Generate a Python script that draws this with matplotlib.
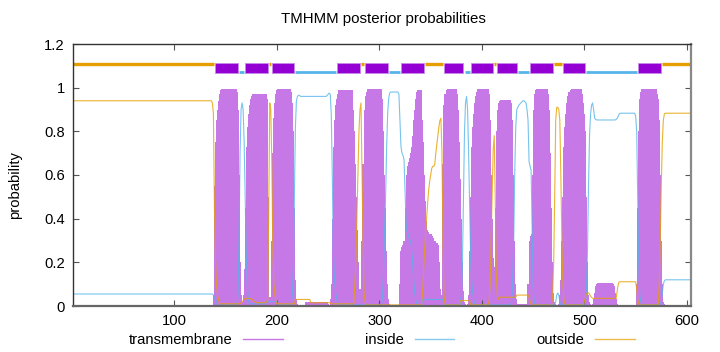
import matplotlib
matplotlib.use("Agg")
import matplotlib.pyplot as plt
from matplotlib.lines import Line2D
from matplotlib.patches import Rectangle
import numpy as np

plt.rcParams["font.family"] = ["Liberation Sans", "DejaVu Sans"]
plt.rcParams["font.size"] = 10.6

SEQ_LEN = 604

# posterior probabilities: (first residue, values)
TM_PIECES = [
    (138, [0.05, 0.55, 0.75, 0.85, 0.9, 0.94, 0.97, 0.99]),
    (146, [0.995] * 15),
    (161, [0.98, 0.9, 0.6, 0.2, 0.05, 0.02, 0.05, 0.17, 0.45, 0.73, 0.82, 0.88, 0.92, 0.95, 0.96]),
    (176, [0.97] * 15),
    (191, [0.95, 0.5, 0.04, 0.04, 0.3, 0.7, 0.86, 0.93, 0.97, 0.99]),
    (201, [0.995] * 13),
    (214, [0.98, 0.93, 0.8, 0.45, 0.12, 0.03, 0.01]),
    (221, [0.005] * 7),
    (228, [0.02] * 22),
    (250, [0.01, 0.005, 0.03]),
    (253, [0.1, 0.4, 0.73, 0.85, 0.92, 0.95, 0.97]),
    (260, [0.99] * 15),
    (275, [0.9, 0.8, 0.65, 0.5, 0.35, 0.2, 0.08, 0.03]),
    (283, [0.3, 0.65, 0.9, 0.96, 0.98]),
    (288, [0.995] * 15),
    (303, [0.95, 0.8, 0.6, 0.45, 0.25, 0.1, 0.03, 0.01]),
    (320, [0.1, 0.25, 0.27, 0.28, 0.3, 0.45, 0.6, 0.64, 0.66, 0.68, 0.7, 0.73, 0.78, 0.85, 0.9, 0.95, 0.98]),
    (337, [0.99] * 5),
    (342, [0.85, 0.75, 0.6, 0.48, 0.39, 0.35, 0.34, 0.33, 0.33, 0.33, 0.32, 0.31, 0.3, 0.3, 0.29, 0.29,
           0.28, 0.2, 0.08, 0.05]),
    (362, [0.65, 0.92, 0.97, 0.99]),
    (366, [0.995] * 10),
    (376, [0.97, 0.9, 0.75, 0.58, 0.4, 0.2, 0.07, 0.02, 0.01]),
    (386, [0.01, 0.05, 0.25, 0.5, 0.73, 0.82, 0.88, 0.93, 0.96, 0.98]),
    (396, [0.995] * 11),
    (407, [0.97, 0.85, 0.6, 0.4, 0.22, 0.18, 0.45, 0.8, 0.9, 0.93, 0.94, 0.945]),
    (419, [0.945] * 10),
    (429, [0.93, 0.85, 0.6, 0.3, 0.1, 0.03, 0.01]),
    (436, [0.01] * 9),
    (445, [0.1, 0.3, 0.32, 0.33, 0.6, 0.9, 0.97, 0.99]),
    (453, [0.995] * 12),
    (465, [0.97, 0.9, 0.7, 0.45, 0.2, 0.06, 0.02]),
    (472, [0.01, 0.005, 0.005, 0.01, 0.05, 0.12, 0.3, 0.5, 0.73, 0.82, 0.88, 0.93, 0.96, 0.98, 0.99]),
    (487, [0.995] * 11),
    (498, [0.97, 0.93, 0.88, 0.8, 0.5, 0.2, 0.05, 0.02, 0.01]),
    (507, [0.005, 0.01, 0.03, 0.06, 0.09, 0.1]),
    (513, [0.105] * 15),
    (528, [0.1, 0.09, 0.06, 0.03, 0.01, 0.005]),
    (551, [0.1, 0.45, 0.8, 0.95, 0.98, 0.995, 0.995]),
    (558, [0.995] * 13),
    (571, [0.97, 0.95, 0.85, 0.6, 0.3, 0.1, 0.02, 0.01]),
]

INSIDE_PIECES = [
    (1, [0.055] * 136),
    (137, [0.055, 0.05, 0.04, 0.03, 0.02, 0.01]),
    (161, [0.01, 0.05, 0.3, 0.7, 0.9, 0.93, 0.9, 0.75, 0.5, 0.25, 0.1, 0.03]),
    (173, [0.01] * 17),
    (190, [0.02] * 11),
    (213, [0.005, 0.01, 0.05, 0.17, 0.5, 0.82, 0.94, 0.96, 0.965, 0.965]),
    (223, [0.96] * 26),
    (249, [0.965, 0.97, 0.975, 0.97]),
    (253, [0.88, 0.6, 0.26, 0.14, 0.07, 0.04, 0.02, 0.01]),
    (303, [0.04, 0.15, 0.35, 0.5, 0.72, 0.88, 0.95, 0.975, 0.98, 0.98]),
    (313, [0.98] * 6),
    (319, [0.97, 0.85, 0.73, 0.7, 0.69, 0.67, 0.52, 0.38, 0.34, 0.33, 0.31, 0.3, 0.28, 0.22, 0.15, 0.08,
           0.04, 0.015]),
    (342, [0.03] * 21),
    (379, [0.01, 0.05, 0.2, 0.5, 0.8, 0.93, 0.96, 0.9, 0.7, 0.45, 0.22, 0.12, 0.06, 0.03]),
    (429, [0.02, 0.1, 0.3, 0.6, 0.82, 0.9, 0.91, 0.92, 0.925, 0.93, 0.935, 0.94, 0.94, 0.935, 0.93, 0.9,
           0.85, 0.66, 0.64, 0.62, 0.35, 0.08, 0.02]),
    (472, [0.02, 0.05, 0.06, 0.05, 0.02]),
    (501, [0.02, 0.08, 0.25, 0.55, 0.78, 0.88, 0.92, 0.93, 0.9, 0.86, 0.855]),
    (512, [0.852] * 19),
    (531, [0.855, 0.86, 0.87, 0.88, 0.883]),
    (536, [0.883] * 14),
    (550, [0.87, 0.8, 0.5, 0.2, 0.05, 0.02, 0.01]),
    (575, [0.02, 0.06, 0.1, 0.115, 0.12]),
    (580, [0.12] * 25),
]

OUTSIDE_PIECES = [
    (1, [0.94] * 136),
    (137, [0.93, 0.88, 0.45, 0.22, 0.1, 0.05, 0.03]),
    (144, [0.01] * 21),
    (165, [0.015, 0.02, 0.025, 0.03, 0.035, 0.035, 0.035, 0.035, 0.035, 0.035, 0.03, 0.03, 0.025, 0.02,
           0.02, 0.015]),
    (181, [0.015] * 9),
    (190, [0.02, 0.03, 0.45, 0.93, 0.9, 0.65, 0.25, 0.1, 0.05, 0.02]),
    (200, [0.01] * 18),
    (218, [0.03] * 15),
    (233, [0.015] * 20),
    (253, [0.01] * 23),
    (276, [0.1, 0.2, 0.4, 0.6, 0.8, 0.9, 0.93, 0.6, 0.3, 0.06, 0.02]),
    (340, [0.005, 0.01, 0.05, 0.15, 0.25, 0.33, 0.4, 0.47, 0.53, 0.57, 0.6, 0.63, 0.64, 0.64, 0.65, 0.7,
           0.74, 0.78, 0.82, 0.85, 0.86, 0.7, 0.3, 0.05, 0.01]),
    (379, [0.025] * 10),
    (407, [0.02, 0.1, 0.3, 0.5, 0.72, 0.78, 0.5, 0.15, 0.05, 0.03]),
    (417, [0.04] * 17),
    (434, [0.05] * 12),
    (446, [0.04, 0.02, 0.01]),
    (469, [0.05, 0.2, 0.5, 0.85, 0.91, 0.91, 0.9, 0.85, 0.6, 0.3, 0.1, 0.03, 0.01]),
    (500, [0.02, 0.04, 0.055, 0.06, 0.06, 0.055, 0.045, 0.04, 0.035, 0.035]),
    (510, [0.035] * 22),
    (532, [0.07, 0.1]),
    (534, [0.111] * 17),
    (551, [0.08, 0.03, 0.01]),
    (573, [0.1, 0.3, 0.55, 0.75, 0.85, 0.88]),
    (579, [0.883] * 26),
]

# predicted topology (residue ranges)
TM_SEGMENTS = [(140, 162), (169, 191), (195, 217), (259, 281), (286, 308), (321, 343),
               (363, 382), (389, 411), (415, 434), (447, 469), (479, 501), (552, 575)]
INSIDE_SEGMENTS = [(163, 168), (218, 258), (309, 320), (383, 388), (435, 446), (502, 551)]
OUTSIDE_SEGMENTS = [(1, 139), (192, 194), (282, 285), (344, 362), (412, 414), (470, 478), (576, 604)]

C_TM = "#9400d3"
C_TM_LIGHT = "#c678e6"
C_IN = "#56b4e9"
C_OUT = "#e69f00"


def profile(pieces, base):
    arr = np.full(SEQ_LEN, base)
    for start, vals in pieces:
        arr[start - 1:start - 1 + len(vals)] = vals
    return arr


residues = np.arange(1, SEQ_LEN + 1)
tm = profile(TM_PIECES, 0.0)
inside = profile(INSIDE_PIECES, 0.005)
outside = profile(OUTSIDE_PIECES, 0.005)

fig = plt.figure(figsize=(7.2, 3.52), dpi=100)
ax = fig.add_axes([73 / 720, 46 / 352, 618 / 720, 262 / 352])

ax.bar(residues, tm, width=1.08, color=C_TM_LIGHT, linewidth=0)
ax.plot(residues, inside, color=C_IN, lw=0.8, alpha=0.8)
ax.plot(residues, outside, color=C_OUT, lw=0.8, alpha=0.8)

# topology bar on top
for a, b in OUTSIDE_SEGMENTS:
    ax.hlines(1.109, a, b, color=C_OUT, lw=2.4)
for a, b in INSIDE_SEGMENTS:
    ax.hlines(1.07, a, b, color=C_IN, lw=2.0)
for a, b in TM_SEGMENTS:
    ax.add_patch(Rectangle((a, 1.066), b - a, 0.048, facecolor=C_TM,
                           edgecolor="#c58ae8", lw=0.6, zorder=3))

ax.set_xlim(1, SEQ_LEN)
ax.set_ylim(0, 1.2)
ax.set_xticks([100, 200, 300, 400, 500, 600])
ax.set_yticks([0, 0.2, 0.4, 0.6, 0.8, 1.0, 1.2])
ax.set_yticklabels(["0", "0.2", "0.4", "0.6", "0.8", "1", "1.2"])
ax.tick_params(direction="in", length=4, top=True, right=True, labelsize=10.6, pad=6,
               color="#555555")
for s in ax.spines.values():
    s.set_color("#333333")
    s.set_linewidth(1.0)
ax.spines["bottom"].set_color("#666666")
ax.spines["bottom"].set_linewidth(1.6)
ax.spines["right"].set_color("#888888")
ax.spines["right"].set_linewidth(1.6)

fig.text(383 / 720, 1 - 19 / 352, "TMHMM posterior probabilities", ha="center", va="center",
         fontsize=10.8)
fig.text(15 / 720, 1 - 185 / 352, "probability", rotation=90, ha="center", va="center",
         fontsize=10.6)

handles = [Line2D([], [], color=C_TM_LIGHT, lw=1),
           Line2D([], [], color=C_IN, lw=1, alpha=0.7),
           Line2D([], [], color=C_OUT, lw=1, alpha=0.7)]
ax.legend(handles, ["transmembrane", "inside", "outside"], ncol=3, markerfirst=False,
          loc="center", bbox_to_anchor=(0.5, -0.13), frameon=False, fontsize=10.6,
          handlelength=2.7, handletextpad=0.7, columnspacing=5.6)

fig.savefig("out.png", dpi=100)
